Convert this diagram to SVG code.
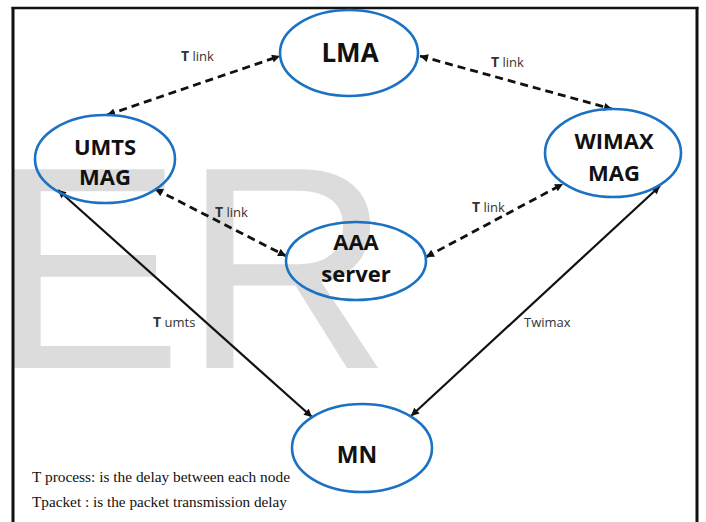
<svg xmlns="http://www.w3.org/2000/svg" width="706" height="522" viewBox="0 0 706 522">
<style>
.node{fill:none;stroke:#1b72c4;stroke-width:2.6}
.nt{font-family:"Open Sans","Liberation Sans",sans-serif;font-weight:bold;fill:#111;text-anchor:middle}
.lbl{font-family:"Open Sans","Liberation Sans",sans-serif;font-size:13px;fill:#333}
.lbl .T{font-weight:bold;font-size:14px}
.dash{stroke:#111;stroke-width:2.8;stroke-dasharray:8 5;fill:none;marker-start:url(#ah);marker-end:url(#ah)}
.solid{stroke:#111;stroke-width:2.2;fill:none;marker-start:url(#ah);marker-end:url(#ah)}
.note{font-family:"Liberation Serif","Times New Roman",serif;font-size:15px;fill:#111}
</style>
<defs>
<marker id="ah" markerUnits="userSpaceOnUse" viewBox="0 0 10 10" refX="10" refY="5" markerWidth="10" markerHeight="8" orient="auto-start-reverse">
<path d="M0,0 L10,5 L0,10 z" fill="#111"/>
</marker>
</defs>
<rect width="706" height="522" fill="#fff"/>
<text x="-10" y="368" font-family="Liberation Sans,Arial,sans-serif" font-size="289" fill="#dcdcdc">ER</text>
<g id="frame" stroke="#111" fill="none">
<line x1="11.5" y1="8" x2="698.5" y2="8" stroke-width="2.5"/>
<line x1="13" y1="7" x2="13" y2="522" stroke-width="3"/>
<line x1="697" y1="7" x2="697" y2="522" stroke-width="3"/>
</g>
<g id="connectors">
<line class="dash" x1="107" y1="115" x2="280" y2="56"/>
<line class="dash" x1="420" y1="56" x2="612" y2="109"/>
<line class="dash" x1="155" y1="189" x2="286" y2="256"/>
<line class="dash" x1="426" y1="257" x2="563" y2="184"/>
<line class="solid" x1="58" y1="190" x2="312" y2="417"/>
<line class="solid" x1="660" y1="186" x2="411" y2="416"/>
<text class="lbl" x="181" y="61"><tspan class="T">T</tspan> link</text>
<text class="lbl" x="491" y="67"><tspan class="T">T</tspan> link</text>
<text class="lbl" x="215" y="217"><tspan class="T">T</tspan> link</text>
<text class="lbl" x="472" y="212"><tspan class="T">T</tspan> link</text>
<text class="lbl" x="153" y="327"><tspan class="T">T</tspan> umts</text>
<text class="lbl" x="524" y="327">Twimax</text>
</g>
<g id="LMA">
<ellipse class="node" cx="349" cy="53" rx="69" ry="43"/>
<text class="nt" x="350" y="62" font-size="26">LMA</text>
</g>
<g id="UMTS_MAG">
<ellipse class="node" cx="105" cy="159" rx="70" ry="44"/>
<text class="nt" x="105" y="155" font-size="22">UMTS</text>
<text class="nt" x="105" y="185" font-size="22">MAG</text>
</g>
<g id="WIMAX_MAG">
<ellipse class="node" cx="613" cy="153" rx="68" ry="44"/>
<text class="nt" x="614" y="149" font-size="22">WIMAX</text>
<text class="nt" x="614" y="181" font-size="22">MAG</text>
</g>
<g id="AAA_server">
<ellipse class="node" cx="356" cy="261" rx="70" ry="39"/>
<text class="nt" x="356" y="250" font-size="22">AAA</text>
<text class="nt" x="356" y="282" font-size="22">server</text>
</g>
<g id="MN">
<ellipse class="node" cx="362" cy="448" rx="70" ry="44"/>
<text class="nt" x="357" y="463" font-size="23">MN</text>
</g>
<g id="notes">
<text class="note" x="32" y="482" textLength="258" lengthAdjust="spacingAndGlyphs">T process: is the delay between each node</text>
<text class="note" x="32" y="507" textLength="255" lengthAdjust="spacingAndGlyphs">Tpacket : is the packet transmission delay</text>
</g>
</svg>
